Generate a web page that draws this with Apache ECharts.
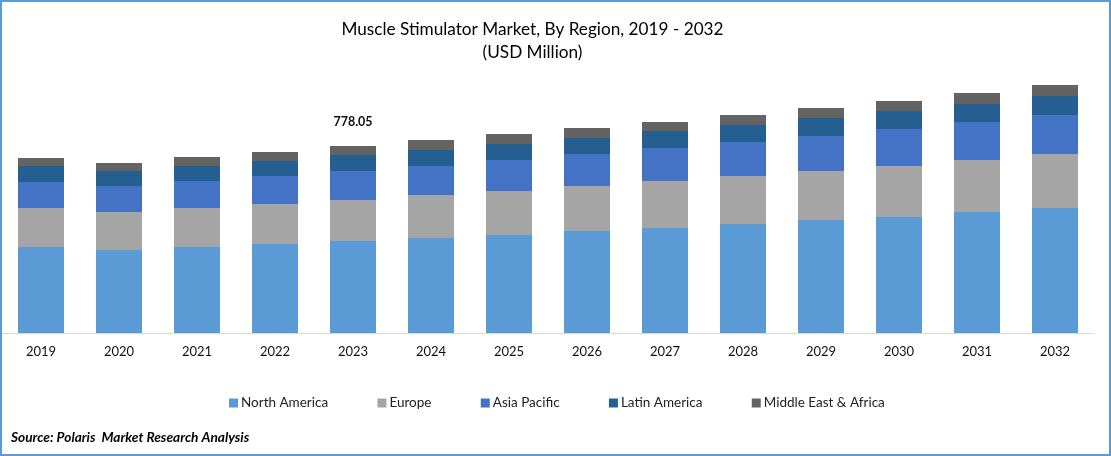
<!DOCTYPE html>
<html><head><meta charset="utf-8">
<style>html,body{margin:0;padding:0;background:#fff}#c{width:1111px;height:456px}</style>
<script src="https://cdn.jsdelivr.net/npm/echarts@6/dist/echarts.min.js"></script>
</head><body><div id="c"></div>
<script>
const categories = ['2019','2020','2021','2022','2023','2024','2025','2026','2027','2028','2029','2030','2031','2032'];
const northAmerica = [357.76,345.28,357.76,370.24,382.72,395.2,407.68,424.32,436.8,453.44,470.08,482.56,503.36,520];
const europe = [162.24,158.08,162.24,166.4,170.56,178.88,183.04,187.2,195.52,199.68,203.84,212.16,216.32,224.64];
const asiaPacific = [108.16,108.16,112.32,116.48,120.64,120.64,128.96,133.12,137.28,141.44,145.6,153.92,158.08,162.24];
const latinAmerica = [66.56,62.4,62.4,62.4,66.56,66.56,66.56,66.56,70.72,70.72,74.88,74.88,74.88,79.04];
const middleEastAfrica = [33.28,33.28,37.44,37.44,37.44,41.6,41.6,41.6,37.44,41.6,41.6,41.6,45.76,45.76];
const seriesNames = ['North America','Europe','Asia Pacific','Latin America','Middle East & Africa'];
const seriesValues = [northAmerica,europe,asiaPacific,latinAmerica,middleEastAfrica];
const colors = ['#5B9BD5','#A5A5A5','#4472C4','#255E91','#636363'];
const labelYear = '2023';
const labelText = '778.05';
const titleText = 'Muscle Stimulator Market, By Region, 2019 - 2032\n(USD Million)';
const sourceText = 'Source: Polaris  Market Research Analysis';
const font = 'Lato';
const chart = echarts.init(document.getElementById('c'), null, {renderer:'canvas'});
chart.setOption({
  animation:false,
  backgroundColor:'#fff',
  textStyle:{fontFamily:font},
  title:{text:titleText,left:527.5,top:13,textAlign:'center',
    textStyle:{fontFamily:font,fontSize:17.2,fontWeight:'normal',color:'#000',lineHeight:23}},
  legend:{data:seriesNames,left:224,top:391,icon:'rect',itemWidth:9,itemHeight:9,itemGap:49.3,
    textStyle:{fontFamily:font,fontSize:13.5,color:'#222',padding:[0,0,0,-2]}},
  grid:{left:2,right:17,top:33,bottom:123,containLabel:false},
  xAxis:{type:'category',data:categories,
    axisLine:{lineStyle:{color:'#D9D9D9',width:1}},axisTick:{show:false},
    axisLabel:{color:'#111',fontFamily:font,fontSize:13,margin:12}},
  yAxis:{type:'value',min:0,max:1248,show:false},
  graphic:[
    {type:'text',left:11,top:431,style:{text:sourceText,font:'italic bold 13.7px '+font,fill:'#000'}},
    {type:'rect',shape:{x:1,y:1,width:1109,height:454},style:{fill:'none',stroke:'#5B9BD5',lineWidth:2},z:100}
  ],
  series:seriesNames.map((n,i)=>({
    name:n,type:'bar',stack:'total',barWidth:46,itemStyle:{color:colors[i]},
    data:seriesValues[i].map((v,j)=> (i===4 && categories[j]===labelYear)
      ? {value:v,label:{show:true,position:'top',distance:18,formatter:labelText,
          fontFamily:font,fontSize:12.5,fontWeight:'bold',color:'#111'}}
      : v)
  }))
});
</script></body></html>
